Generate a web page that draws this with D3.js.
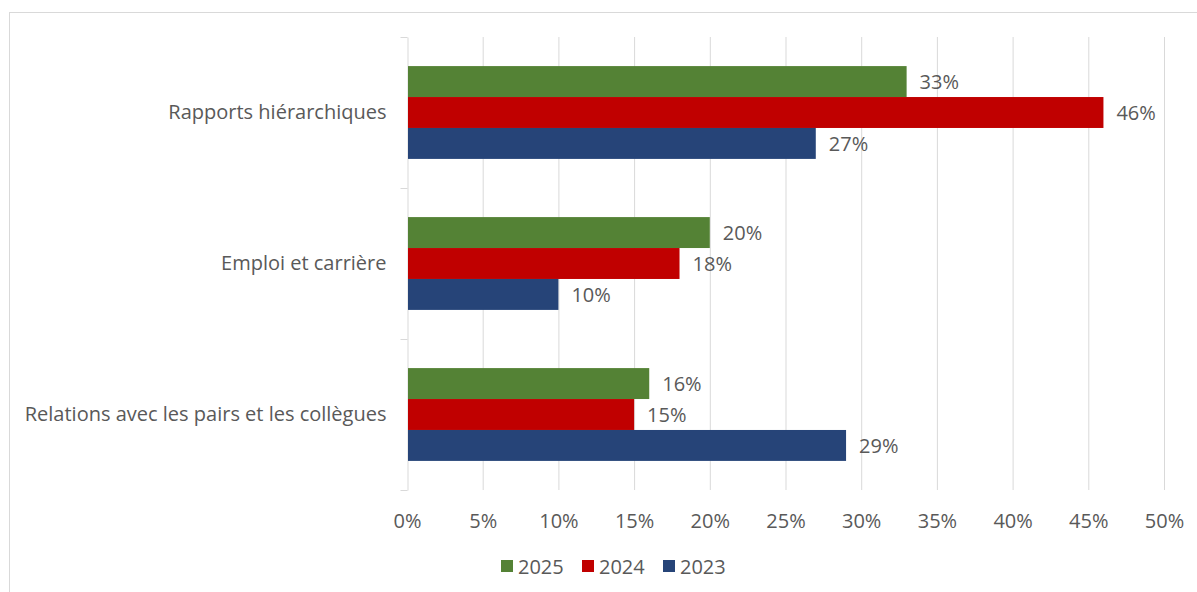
<!DOCTYPE html>
<html>
<head>
<meta charset="utf-8">
<script src="https://cdn.jsdelivr.net/npm/d3@7"></script>
<style>
  html, body { margin: 0; padding: 0; background: #fff; }
  svg { display: block; }
  svg text { font-family: "Open Sans", "Noto Sans", sans-serif; }
</style>
</head>
<body>
<svg id="chart" width="1197" height="592"></svg>
<script>
// Categories, top to bottom
const categories = ["Rapports hiérarchiques", "Emploi et carrière", "Relations avec les pairs et les collègues"];
// Series (share of respondents, %)
const seriesNames = ["2025", "2024", "2023"];
const values2025 = [33, 20, 16];
const values2024 = [46, 18, 15];
const values2023 = [27, 10, 29];
const xTicks = [0, 5, 10, 15, 20, 25, 30, 35, 40, 45, 50];
const colors = ["#548235", "#C00000", "#264478"];

const seriesValues = [values2025, values2024, values2023];

const svg = d3.select("#chart");
const textColor = "#595959";
const fontSize = 20;

// outer frame
svg.append("rect")
  .attr("x", 9.5).attr("y", 12.5)
  .attr("width", 1220).attr("height", 620)
  .attr("fill", "none").attr("stroke", "#d9d9d9");

const plot = { left: 407, right: 1164, top: 37, bottom: 490 };

const x = d3.scaleLinear().domain([0, 50]).range([plot.left, plot.right]);
const y = d3.scaleBand().domain(categories).range([plot.top, plot.bottom]).paddingInner(0).paddingOuter(0);
const inner = d3.scaleBand().domain(seriesNames).range([0, y.bandwidth()]).paddingInner(0).paddingOuter(0.94);

// vertical gridlines
svg.append("g")
  .selectAll("line")
  .data(xTicks.slice(1))
  .join("line")
  .attr("x1", d => x(d) + 0.5).attr("x2", d => x(d) + 0.5)
  .attr("y1", plot.top).attr("y2", plot.bottom)
  .attr("stroke", "#d9d9d9").attr("stroke-width", 1);

// x axis labels
const xAxis = d3.axisBottom(x).tickValues(xTicks).tickSize(0).tickPadding(0).tickFormat(d => d + "%");
const gx = svg.append("g").attr("transform", `translate(0,${plot.bottom + 30})`).call(xAxis);
gx.attr("font-family", null).attr("font-size", null);
gx.select(".domain").remove();
gx.selectAll("text").attr("fill", textColor).attr("font-size", fontSize).attr("y", 0).attr("dy", null).attr("dominant-baseline", "central");

// y axis with category ticks at band boundaries
const yAxis = d3.axisLeft(y).tickSize(0).tickPadding(21);
const gy = svg.append("g").attr("transform", `translate(${plot.left + 0.5},0)`).call(yAxis);
gy.attr("font-family", null).attr("font-size", null);
gy.select(".domain").attr("stroke", "#d9d9d9");
gy.selectAll("text").attr("fill", textColor).attr("font-size", fontSize);
const boundaries = categories.map(c => y(c)).concat([plot.bottom]);
gy.selectAll(".bound")
  .data(boundaries)
  .join("line")
  .attr("class", "bound")
  .attr("x1", -7).attr("x2", 0)
  .attr("y1", d => d + 0.5).attr("y2", d => d + 0.5)
  .attr("stroke", "#d9d9d9");

// bars
const groups = svg.append("g")
  .selectAll("g")
  .data(categories)
  .join("g")
  .attr("transform", c => `translate(0,${y(c)})`);

groups.each(function(c, ci) {
  const g = d3.select(this);
  seriesNames.forEach((s, si) => {
    const v = seriesValues[si][ci];
    g.append("rect")
      .attr("x", x(0) + 1)
      .attr("y", inner(s))
      .attr("width", x(v) - x(0) - 1)
      .attr("height", inner.bandwidth())
      .attr("fill", colors[si]);
    g.append("text")
      .attr("x", x(v) + 13)
      .attr("y", inner(s) + inner.bandwidth() / 2)
      .attr("dominant-baseline", "central")
      .attr("fill", textColor)
      .attr("font-size", fontSize)
      .text(v + "%");
  });
});

// legend
const legendX = [501, 582, 663];
const legend = svg.append("g").attr("transform", "translate(0,566)");
seriesNames.forEach((s, i) => {
  legend.append("rect")
    .attr("x", legendX[i]).attr("y", -6)
    .attr("width", 12).attr("height", 12)
    .attr("fill", colors[i]);
  legend.append("text")
    .attr("x", legendX[i] + 17).attr("y", 0)
    .attr("dominant-baseline", "central")
    .attr("fill", textColor)
    .attr("font-size", fontSize)
    .text(s);
});
</script>
</body>
</html>
